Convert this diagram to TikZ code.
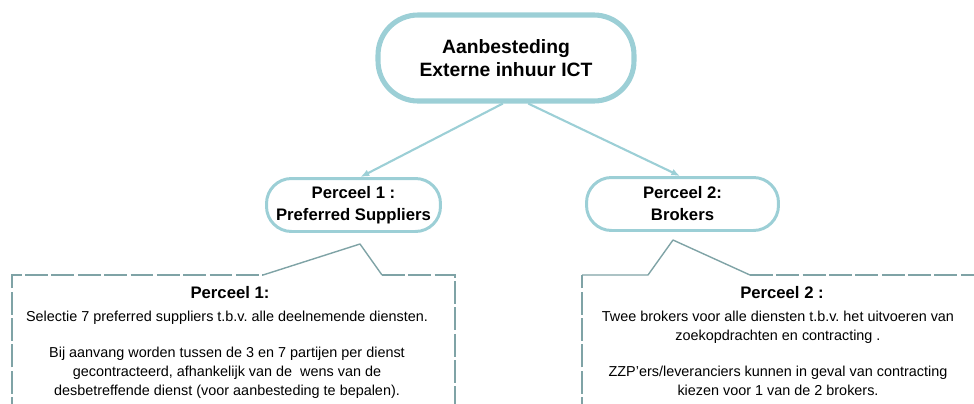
\documentclass[tikz,border=0pt]{standalone}
\usepackage{fontspec}
\setmainfont{Liberation Sans}
\usetikzlibrary{arrows.meta}
\definecolor{lichtblauw}{HTML}{9CCFD6}
\definecolor{kaderlijn}{HTML}{7FA3A6}
\frenchspacing

\begin{document}
\begin{tikzpicture}[x=0.02cm, y=-0.02cm,
    hoofd/.style={draw=lichtblauw, line width=2.9pt, rounded corners=0.8cm,
        minimum width=5.12cm, minimum height=1.72cm, align=center,
        font=\bfseries\fontsize{11}{13}\selectfont},
    perceel/.style={draw=lichtblauw, line width=1.7pt, rounded corners=0.5cm,
        minimum height=1.06cm, align=center,
        font=\bfseries\fontsize{9.5}{12.5}\selectfont},
    pijl/.style={draw=lichtblauw, line width=1.2pt, -{Latex[length=5pt,width=4pt]}},
    kader/.style={draw=kaderlijn, line width=0.8pt, dash pattern=on 13pt off 2pt},
    punt/.style={draw=kaderlijn, line width=0.8pt, line join=round},
    kop/.style={inner sep=0pt, font=\bfseries\fontsize{9.5}{11}\selectfont},
    uitleg/.style={inner sep=0pt, anchor=north, align=center,
        font=\fontsize{8.2}{10.8}\selectfont}]

    % Vaste afmetingen van de afbeelding
    \useasboundingbox (0,0) rectangle (974,403);
    \clip (0,0) rectangle (974,403);

    % Bovenste blok
    \node[hoofd] (aanbesteding) at (506,58) {Aanbesteding\\Externe inhuur ICT};

    % De twee percelen
    \node[perceel, minimum width=3.48cm] (perceel1) at (353.5,205) {Perceel 1 :\\Preferred Suppliers};
    \node[perceel, minimum width=3.84cm] (perceel2) at (682.5,204) {Perceel 2:\\Brokers};

    % Pijlen van boven naar de percelen
    \draw[pijl] (aanbesteding.266) -- (perceel1.76);
    \draw[pijl] (aanbesteding.296) -- (perceel2.95);

    % Kaders met toelichting (lopen door onder de rand)
    \draw[kader] (12,420) -- (12,275) -- (263,275);
    \draw[punt] (263,275) -- (360,244) -- (382,275);
    \draw[kader] (382,275) -- (455,275) -- (455,420);
    \draw[kader] (582,420) -- (582,275);
    \draw[punt] (582,275) -- (648,275) -- (673,240) -- (750,275);
    \draw[kader] (750,275) -- (990,275);

    % Tekst perceel 1
    \node[kop] (kop1) at (230,293) {Perceel 1:};
    \node[uitleg] (tekst1) at (227,311) {Selectie 7 preferred suppliers t.b.v. alle deelnemende diensten.\\[9.6pt]
        Bij aanvang worden tussen de 3 en 7 partijen per dienst\\
        gecontracteerd, afhankelijk van de\ \ wens van de\\
        desbetreffende dienst (voor aanbesteding te bepalen).};

    % Tekst perceel 2
    \node[kop] (kop2) at (782,293) {Perceel 2 :};
    \node[uitleg] (tekst2) at (778,311) {Twee brokers voor alle diensten t.b.v. het uitvoeren van\\
        zoekopdrachten en contracting .\\[9.6pt]
        ZZP'ers/leveranciers kunnen in geval van contracting\\
        kiezen voor 1 van de 2 brokers.};

\end{tikzpicture}
\end{document}
